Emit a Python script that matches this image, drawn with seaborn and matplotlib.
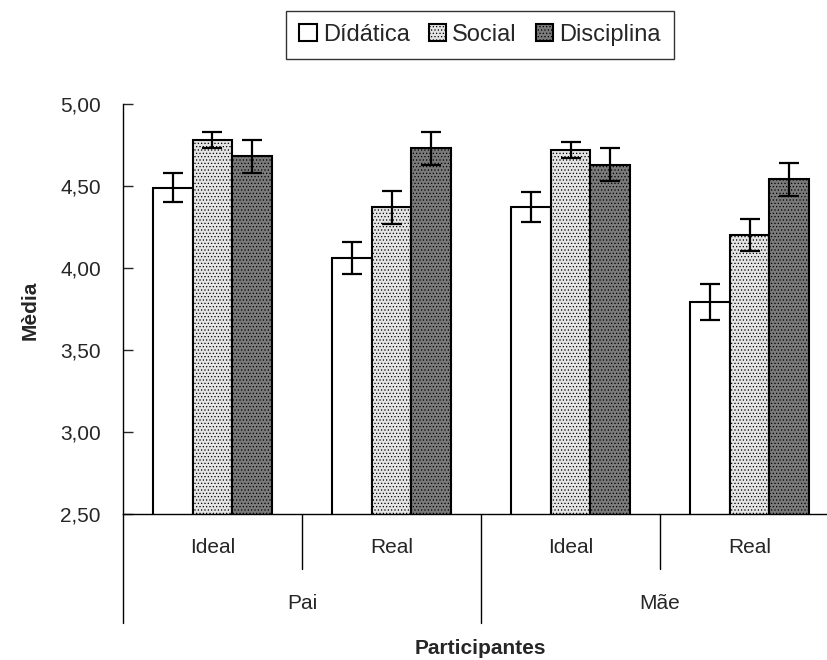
import pandas as pd
import matplotlib.pyplot as plt
import seaborn as sns

# Values
grupos = ['Pai Ideal', 'Pai Real', 'Mãe Ideal', 'Mãe Real']
subrotulos = ['Ideal', 'Real', 'Ideal', 'Real']
participantes = ['Pai', 'Mãe']
dimensoes = ['Dídática', 'Social', 'Disciplina']

didatica = [4.49, 4.06, 4.37, 3.79]
social = [4.78, 4.37, 4.72, 4.20]
disciplina = [4.68, 4.73, 4.63, 4.54]

erro_didatica = [0.09, 0.10, 0.09, 0.11]
erro_social = [0.05, 0.10, 0.05, 0.10]
erro_disciplina = [0.10, 0.10, 0.10, 0.10]

yticks = [2.5, 3.0, 3.5, 4.0, 4.5, 5.0]

df = pd.DataFrame({
    'grupo': grupos * 3,
    'dimensao': [d for d in dimensoes for _ in grupos],
    'media': didatica + social + disciplina,
})
erros = [erro_didatica, erro_social, erro_disciplina]

sns.set_style('white')
plt.rcParams['font.family'] = ['Liberation Sans', 'DejaVu Sans']
plt.rcParams['hatch.linewidth'] = 0.5
plt.rcParams['hatch.color'] = '#555555'

fig = plt.figure(figsize=(8.28, 6.6), dpi=100)
ax = fig.add_axes([123 / 828, 1 - 513.5 / 660, 705 / 828, 409.5 / 660])

cores = ['white', '#e4e4e4', '#7a7a7a']
sns.barplot(data=df, x='grupo', y='media', hue='dimensao', palette=cores,
            width=0.665, edgecolor='black', linewidth=1.5, errorbar=None,
            legend=False, ax=ax)

hatches = ['', '.....', '.....']
for cont, h, err in zip(ax.containers, hatches, erros):
    for bar, e in zip(cont, err):
        bar.set_hatch(h)
        xc = bar.get_x() + bar.get_width() / 2
        ax.errorbar(xc, bar.get_height(), yerr=e, color='black', lw=1.6,
                    capsize=7.5, capthick=1.6)

ax.set_ylim(2.5, 5.0)
ax.set_xlim(-0.5, -0.5 + 705 / 179)
ax.set_yticks(yticks)
ax.set_yticklabels([f'{v:.2f}'.replace('.', ',') for v in yticks], fontsize=15)
ax.tick_params(axis='y', direction='in', length=7, width=1, pad=16, left=True)
ax.set_xticks([])
ax.set_xlabel('')
ax.set_ylabel('')
for s in ['top', 'right']:
    ax.spines[s].set_visible(False)
for s in ['left', 'bottom']:
    ax.spines[s].set_color('black')
    ax.spines[s].set_linewidth(1)

# two-level category axis
tr = ax.get_xaxis_transform()
for x in [0.5, 2.5]:
    ax.plot([x, x], [0, -0.1355], transform=tr, color='black', lw=1, clip_on=False)
for x in [-0.5, 1.5]:
    ax.plot([x, x], [0, -0.267], transform=tr, color='black', lw=1, clip_on=False)
for i, lab in enumerate(subrotulos):
    ax.text(i, -0.084, lab, transform=tr, ha='center', va='center', fontsize=15)
for i, lab in enumerate(participantes):
    ax.text(0.5 + 2 * i, -0.2186, lab, transform=tr, ha='center', va='center', fontsize=15)

fig.text(480 / 828, 1 - 649 / 660, 'Participantes', ha='center', va='center',
         fontsize=15, fontweight='bold')
fig.text(30 / 828, 1 - 310 / 660, 'Mèdia', ha='center', va='center',
         rotation=90, fontsize=15, fontweight='bold')

handles = [cont[0] for cont in ax.containers]
leg = fig.legend(handles, dimensoes, loc='center', bbox_to_anchor=(480 / 828, 1 - 35 / 660),
                 ncol=3, fontsize=17, frameon=True, fancybox=False,
                 handlelength=0.75, handleheight=0.75, handletextpad=0.25,
                 columnspacing=0.8, borderpad=0.55, borderaxespad=0)
leg.get_frame().set_edgecolor('black')
leg.get_frame().set_linewidth(1)

plt.savefig('out.png', dpi=100)
